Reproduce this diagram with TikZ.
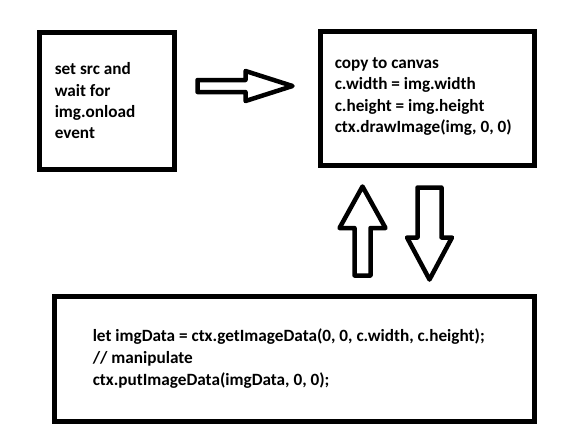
\documentclass[tikz,border=0pt]{standalone}
\usepackage{fontspec}
\setmainfont{Carlito}
\def\pxl{0.75pt}
\tikzset{
  frame/.style={
    draw=black,
    line width=5*\pxl,
    inner sep=0pt
  },
  txt/.style={
    anchor=west,
    align=left,
    inner sep=0pt,
    font=\fontsize{12.9}{16}\selectfont\bfseries
  },
  blockarrow/.style={
    draw=black,
    line width=4.5*\pxl,
    line join=round,
    fill=white
  }
}
\begin{document}
\begin{tikzpicture}[x=\pxl, y=-\pxl]
  \useasboundingbox (0,0) rectangle (563,447);

  % --- Boxes ---
  \node[frame, minimum width=135*\pxl, minimum height=137*\pxl] (load) at (107,101) {};
  \node[frame, minimum width=214*\pxl, minimum height=134*\pxl] (canvas) at (427.5,98.5) {};
  \node[frame, minimum width=480*\pxl, minimum height=125*\pxl] (pixels) at (294.5,359) {};

  % --- Texts ---
  \node[txt] (loadText) at ([xshift=17.5*\pxl]load.west)
    {set src and\\wait for\\img.onload\\event};
  \node[txt] (canvasText) at ([xshift=16.5*\pxl, yshift=2*\pxl]canvas.west)
    {copy to canvas\\c.width = img.width\\c.height = img.height\\ctx.drawImage(img, 0, 0)};
  \node[txt, font=\fontsize{12.9}{16.5}\selectfont\bfseries] (pixelsText) at ([xshift=40.5*\pxl]pixels.west)
    {let imgData = ctx.getImageData(0, 0, c.width, c.height);\\// manipulate\\ctx.putImageData(imgData, 0, 0);};

  % --- Block arrows ---
  % load -> canvas
  \draw[blockarrow] (197.5,80) -- (245.5,80) -- (245.5,71) -- (292.5,86)
    -- (245.5,101) -- (245.5,92) -- (197.5,92) -- cycle;
  % pixels -> canvas
  \draw[blockarrow] (354.5,275.5) -- (354.5,228) -- (339.5,228) -- (362.5,186.5)
    -- (385.5,228) -- (370.5,228) -- (370.5,275.5) -- cycle;
  % canvas -> pixels
  \draw[blockarrow] (417.5,187.5) -- (441.5,187.5) -- (441.5,237.5) -- (452,237.5)
    -- (429.5,279.5) -- (407,237.5) -- (417.5,237.5) -- cycle;
\end{tikzpicture}
\end{document}
